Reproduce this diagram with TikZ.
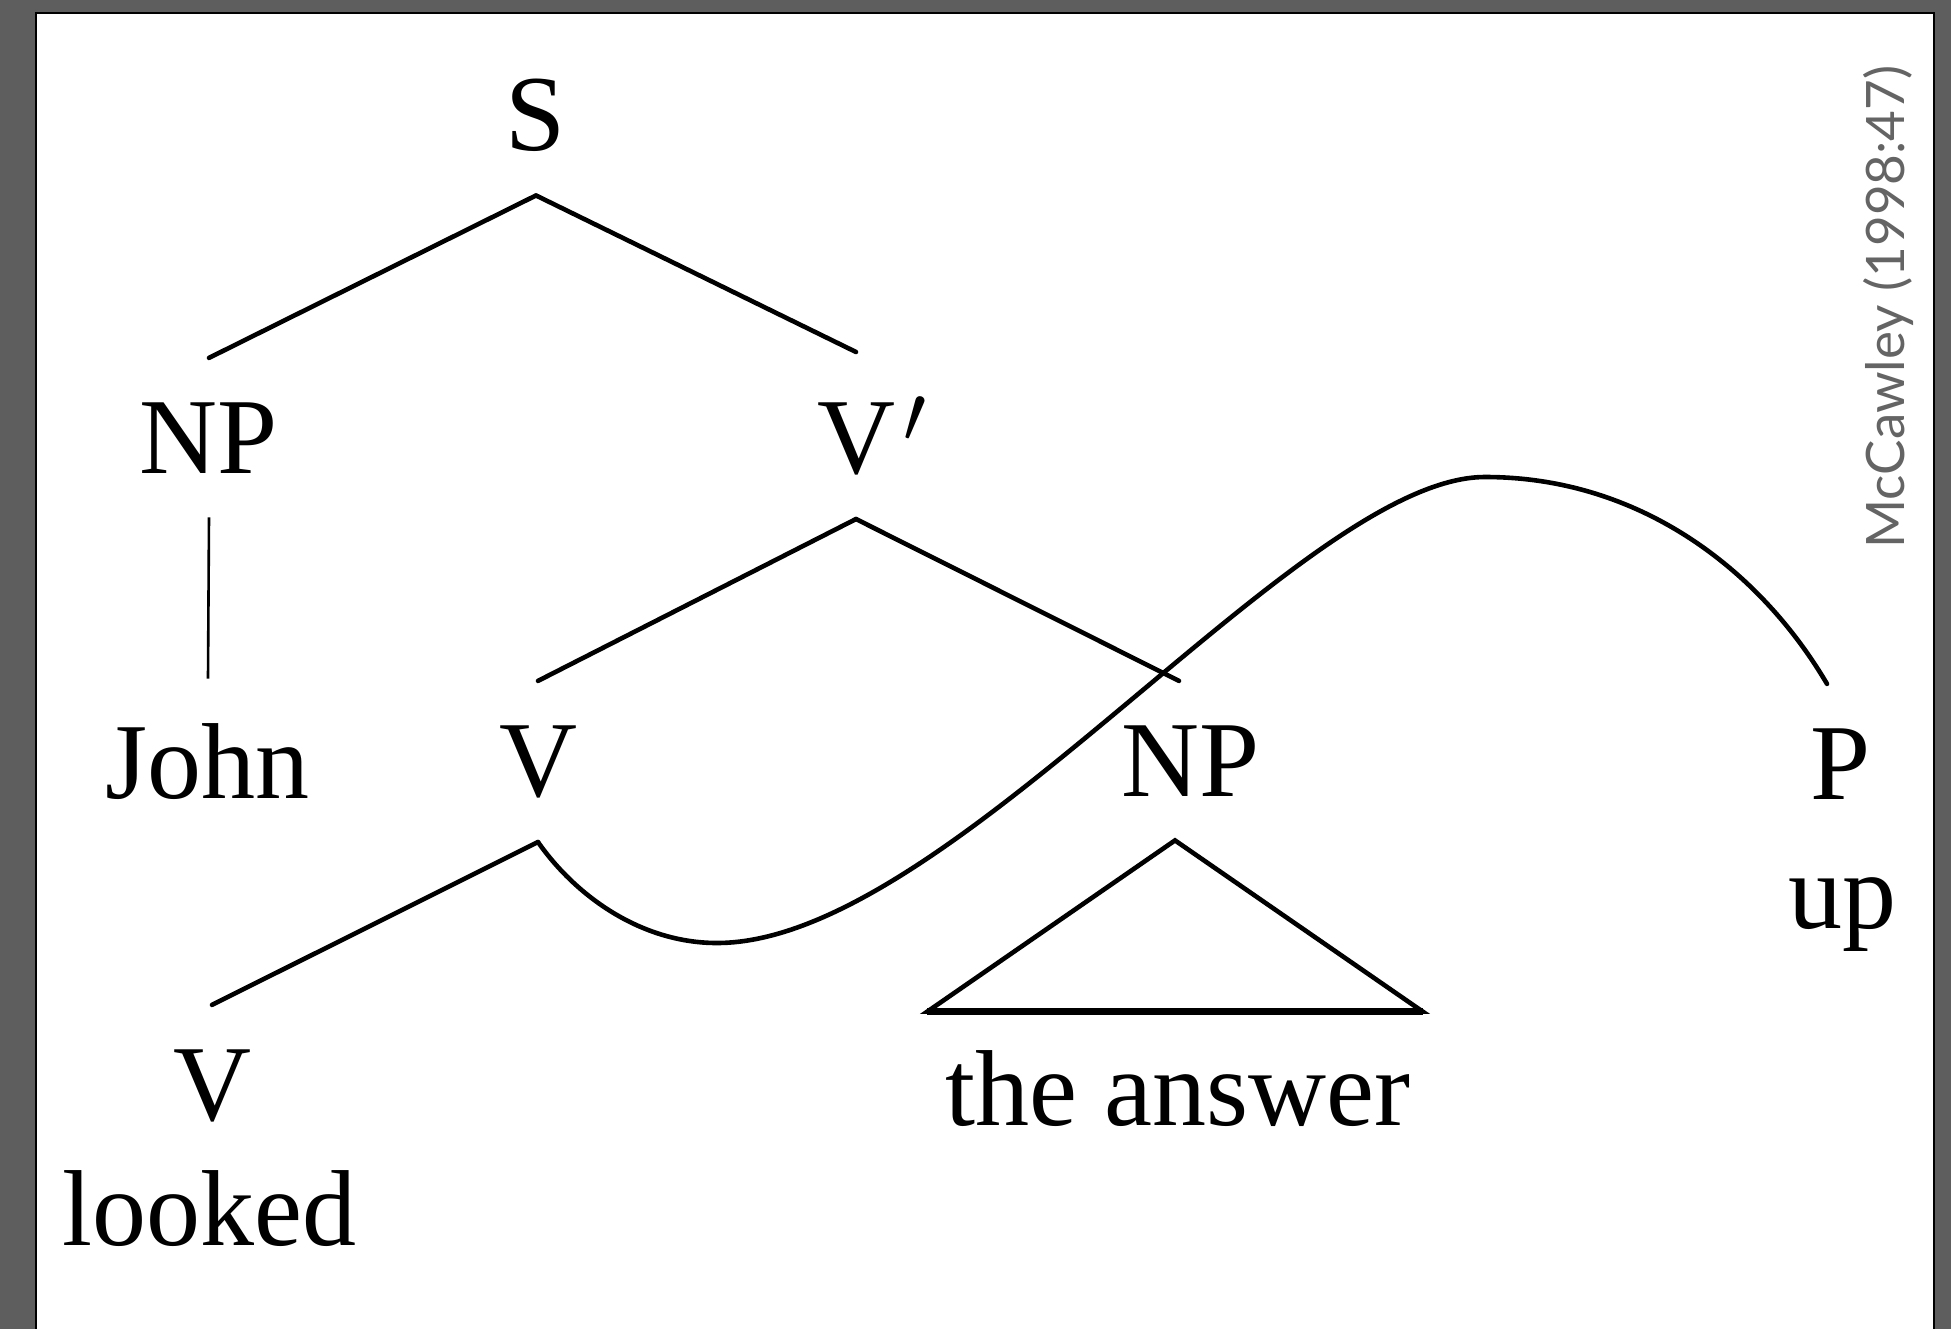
\documentclass[tikz,border=0pt]{standalone}
\usepackage{fontspec}
\usepackage{graphicx}
\setmainfont{Liberation Serif}
\newfontfamily\citefont{Lato}
\definecolor{bggray}{RGB}{94,94,94}
\definecolor{citegray}{RGB}{100,100,100}
\begin{document}
\begin{tikzpicture}[x=0.5pt,y=-0.5pt,
  lbl/.style={font=\fontsize{54}{60}\selectfont, inner xsep=0pt, inner ysep=22pt, anchor=base},
  edge/.style={line width=2.3pt, line cap=round, line join=round},
  thinedge/.style={line width=1.3pt},
  basebar/.style={line width=3.4pt}]
\useasboundingbox (0,0) rectangle (1951,1329);
\fill[bggray] (0,0) rectangle (1951,1329);
\draw[fill=white, line width=1.25pt] (36,13) rectangle (1934,1345);

\node[lbl] (S) at (536,150) {S};
\node[lbl] (NP1) at (209,473) {NP};
\node[lbl] (Vbar) at (856,473) {V\rlap{\hspace{4pt}\raisebox{15.5pt}{\scalebox{1.65}{\fontsize{24}{24}\selectfont$\prime$}}}};
\node[lbl] (John) at (208,798) {John};
\node[lbl] (Vm) at (538,796) {V};
\node[lbl] (NPm) at (1191,796) {NP};
\node[lbl] (P) at (1841,799) {P};
\node[lbl] (up) at (1842,928) {up};
\node[lbl] (Vb) at (212,1120) {V};
\node[lbl] (looked) at (209,1245) {looked};
\node[lbl] (ans) at (1178,1125) {the answer};

\node[rotate=90, font=\citefont\fontsize{26.5}{26.5}\selectfont, text=citegray, inner sep=0pt] (cite) at (1888,307) {McCawley (1998:47)};

\coordinate (c1) at (717,943);
\coordinate (c2) at (1485,477);

\draw[edge] (S.south) -- (NP1.north);
\draw[edge] (S.south) -- (Vbar.north);
\draw[thinedge] (NP1.south) -- (John.north);
\draw[edge] (Vbar.south) -- (Vm.north);
\draw[edge] (Vbar.south) -- ([xshift=-6pt]NPm.north);
\draw[edge] (Vm.south) -- (Vb.north);
\draw[edge, line join=miter] ([xshift=-8pt]NPm.south) -- ([xshift=-9pt,yshift=-3pt]ans.north west) -- ([xshift=6pt,yshift=-3pt]ans.north east) -- cycle;
\draw[basebar] ([xshift=-9pt,yshift=-3pt]ans.north west) -- ([xshift=6pt,yshift=-3pt]ans.north east);
\draw[edge] (Vm.south) .. controls (575,895) and (640,943) .. (c1)
  .. controls (950,943) and (1300,477) .. (c2)
  .. controls (1640,477) and (1760,570) .. ([xshift=-7pt]P.north);
\end{tikzpicture}
\end{document}
